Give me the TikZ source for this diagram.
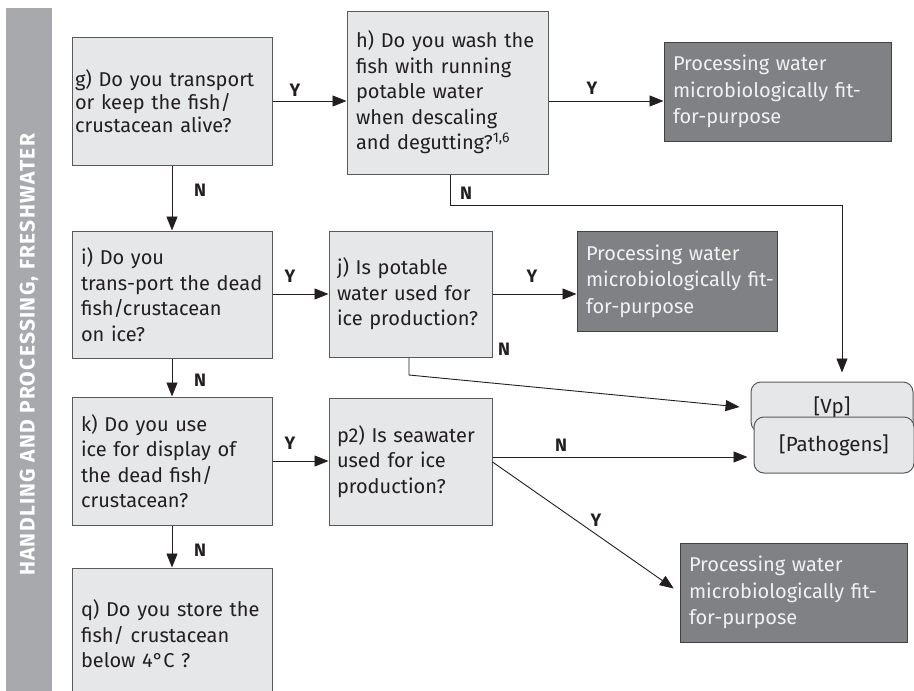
\documentclass[tikz,border=0pt]{standalone}
\usepackage{fontspec}
\setmainfont{Fira Sans}
\newfontfamily\barfont{Fira Sans}[LetterSpace=6]
\usetikzlibrary{arrows.meta,calc}
\definecolor{boxfill}{HTML}{E6E7E8}
\definecolor{boxline}{HTML}{58595B}
\definecolor{dfill}{HTML}{808184}
\definecolor{dline}{HTML}{414042}
\definecolor{dtext}{HTML}{F1F1F2}
\definecolor{barfill}{HTML}{A7A9AC}
\definecolor{lin}{HTML}{231F20}
\newcommand\oneline[1]{\mbox{#1}}
\tikzset{
  qbox/.style={draw=boxline, fill=boxfill, line width=1pt, text=lin,
    font=\fontsize{20}{25.5}\selectfont, align=left, inner xsep=9pt, inner ysep=0pt, anchor=center},
  dbox/.style={draw=dline, fill=dfill, line width=1pt, text=dtext,
    font=\fontsize{20}{26.5}\selectfont, align=left, inner xsep=9pt, inner ysep=0pt, anchor=center,
    minimum width=227pt, minimum height=99pt, text width=209pt},
  rbox/.style={draw=boxline, fill=boxfill, line width=1pt, text=lin, rounded corners=10pt,
    font=\fontsize{20.5}{22}\selectfont, anchor=center},
  arr/.style={draw=lin, line width=0.9pt, -{Triangle[length=14pt,width=11pt]}},
  lab/.style={text=lin, font=\fontsize{18}{18}\selectfont\bfseries, inner sep=0pt},
}
\begin{document}
\begin{tikzpicture}[x=1pt,y=-1pt]
\useasboundingbox (0,0) rectangle (914,691);
% side bar
\node[fill=barfill, minimum width=46pt, minimum height=692pt, inner sep=0pt] (bar) at (29,354) {};
\node[rotate=90, text=white, font=\barfont\fontsize{21}{21}\selectfont\bfseries, inner sep=0pt] (bartxt) at (29,355) {HANDLING AND PROCESSING, FRESHWATER};
% question boxes
\node[qbox, inner xsep=3pt, minimum width=200pt, minimum height=128pt, text width=194pt, font=\fontsize{20}{23}\selectfont] (g) at (172,101)
  {\oneline{g) Do you transport}\\\oneline{or keep the fish/}\\\oneline{crustacean alive?}};
\node[qbox, minimum width=201pt, minimum height=163pt, text width=183pt] (h) at (447.5,92.5)
  {\oneline{h) Do you wash the}\\\oneline{fish with running}\\\oneline{potable water}\\\oneline{when descaling}\\\oneline{and degutting?\textsuperscript{1,6}}};
\node[qbox, minimum width=200pt, minimum height=127pt, text width=182pt] (i) at (172,294.5)
  {\oneline{i) Do you}\\\oneline{trans-port the dead}\\\oneline{fish/crustacean}\\\oneline{on ice?}};
\node[qbox, inner xsep=8pt, minimum width=163pt, minimum height=126pt, text width=147pt] (j) at (410.5,294)
  {\oneline{j) Is potable}\\\oneline{water used for}\\\oneline{ice production?}};
\node[qbox, minimum width=200pt, minimum height=128pt, text width=182pt] (k) at (172,461)
  {\oneline{k) Do you use}\\\oneline{ice for display of}\\\oneline{the dead fish/}\\\oneline{crustacean?}};
\node[qbox, inner xsep=8pt, minimum width=163pt, minimum height=127pt, text width=147pt] (p2) at (410.5,461.5)
  {\oneline{p2) Is seawater}\\\oneline{used for ice}\\\oneline{production?}};
\node[qbox, minimum width=200pt, minimum height=132pt, text width=182pt] (q) at (172,634)
  {\oneline{q) Do you store the}\\\oneline{fish/ crustacean}\\\oneline{below 4°C ?}};
% outcome boxes
\node[dbox] (P1) at (777.5,91.5) {\oneline{Processing water}\\\oneline{microbiologically fit-}\\\oneline{for-purpose}};
\node[dbox, minimum width=200pt, minimum height=100pt, text width=182pt] (P2) at (677,281) {\oneline{Processing water}\\\oneline{microbiologically fit-}\\\oneline{for-purpose}};
\node[dbox] (P3) at (793.5,592.5) {\oneline{Processing water}\\\oneline{microbiologically fit-}\\\oneline{for-purpose}};
\node[rbox, minimum width=162pt, minimum height=50pt] (Vp) at (832,407) {[Vp]};
\node[rbox, minimum width=160pt, minimum height=56pt] (Pa) at (834,445) {[Pathogens]};
% connectors
\draw[arr] (g.east) -- (g.east -| h.west);
\node[lab] (lgy) at (295,90) {Y};
\draw[arr] (g.east -| h.east) -- (g.east -| P1.west);
\node[lab] (lhy) at (592,88) {Y};
\coordinate (hn) at (450,205);
\draw[arr, shorten >=9pt] (h.south -| hn) -- (hn) -| ([xshift=10pt]Vp.north);
\node[lab] (lhn) at (466,193) {N};
\draw[arr] (g.south) -- (i.north);
\node[lab] (lgn) at (200,190) {N};
\draw[arr] (i.east |- j.center) -- (j.west);
\node[lab] (liy) at (290,276) {Y};
\draw[arr] (j.east) -- (j.east -| P2.west);
\node[lab] (ljy) at (532,276) {Y};
\coordinate (jn) at (409,375);
\draw[arr, shorten >=11pt] (j.south -| jn) -- (jn) -- ([yshift=-1pt]Vp.west);
\node[lab] (ljn) at (504,349) {N};
\draw[arr] (i.south) -- (k.north);
\node[lab] (lin) at (200,380) {N};
\draw[arr] (k.east) -- (k.east -| p2.west);
\node[lab] (lky) at (290,443) {Y};
\draw[arr, shorten >=6pt] (p2.east |- 0,457) -- (Pa.west |- 0,457);
\node[lab] (lpn) at (561,445) {N};
\draw[arr, shorten >=7pt] (p2.east |- 0,462) -- (P3.west);
\node[lab] (lpy) at (596,520) {Y};
\draw[arr] (k.south) -- (q.north);
\node[lab] (lkn) at (200,550) {N};
\end{tikzpicture}
\end{document}
